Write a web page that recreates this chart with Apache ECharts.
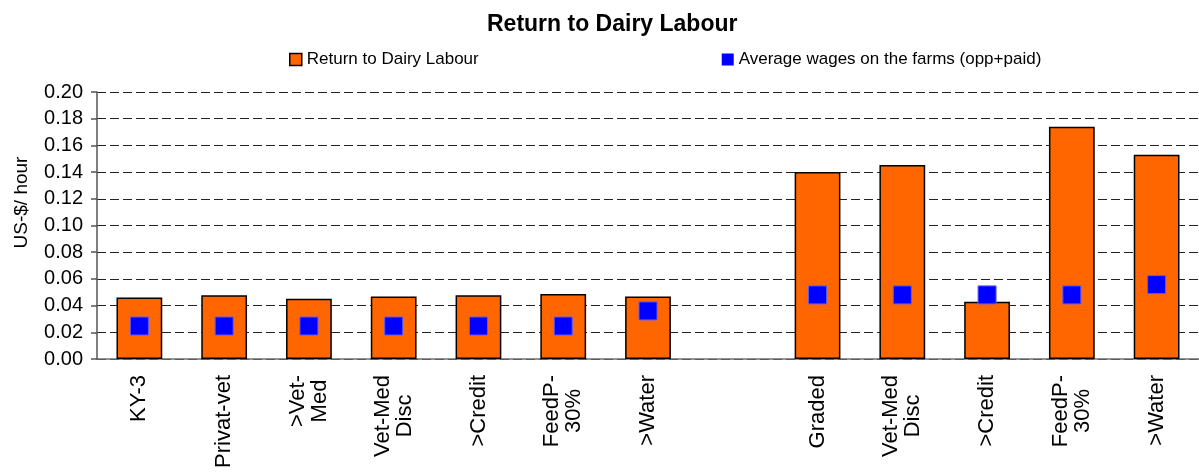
<!DOCTYPE html>
<html>
<head>
<meta charset="utf-8">
<script src="https://cdn.jsdelivr.net/npm/echarts@6/dist/echarts.min.js"></script>
<style>
  html, body { margin: 0; padding: 0; background: #ffffff; }
  #chart { width: 1199px; height: 472px; }
</style>
</head>
<body>
<div id="chart"></div>
<script>
// Scenario labels (blank slot separates the two farm groups)
const categories = [
  'KY-3', 'Privat-vet', '>Vet-\nMed', 'Vet-Med\nDisc', '>Credit', 'FeedP-\n30%', '>Water',
  '',
  'Graded', 'Vet-Med\nDisc', '>Credit', 'FeedP-\n30%', '>Water'
];

// Return to dairy labour, US-$ per hour
const returnLabour = [0.046, 0.0477, 0.0452, 0.0469, 0.0477, 0.0487, 0.0469, null, 0.140, 0.1453, 0.0429, 0.174, 0.153];

// Average wages on the farms (opportunity + paid), US-$ per hour
const avgWages = [0.0247, 0.0247, 0.0247, 0.0247, 0.0247, 0.0247, 0.036, null, 0.048, 0.048, 0.048, 0.048, 0.0557];

const FONT = '"Liberation Sans", Arial, sans-serif';

const chart = echarts.init(document.getElementById('chart'), null, { renderer: 'canvas' });

chart.setOption({
  animation: false,
  backgroundColor: '#ffffff',
  title: {
    text: 'Return to Dairy Labour',
    left: 482,
    top: 8,
    textStyle: { fontFamily: FONT, fontSize: 23, fontWeight: 'bold', color: '#000' }
  },
  legend: {
    left: 284,
    top: 46,
    itemGap: 243,
    itemWidth: 12,
    itemHeight: 12,
    itemStyle: { borderWidth: 0 },
    textStyle: { fontFamily: FONT, fontSize: 17, color: '#000' },
    data: [
      { name: 'Return to Dairy Labour', icon: 'rect', itemStyle: { borderColor: '#000', borderWidth: 1.5 } },
      { name: 'Average wages on the farms (opp+paid)', icon: 'rect', itemStyle: { borderWidth: 0 } }
    ]
  },
  grid: { left: 97, right: 0, top: 92, bottom: 113 },
  xAxis: {
    type: 'category',
    data: categories,
    boundaryGap: true,
    axisLine: { lineStyle: { color: '#707070', width: 1.5 } },
    axisTick: { alignWithLabel: false, length: 8, interval: 0, lineStyle: { color: '#707070', width: 1.5 } },
    axisLabel: {
      interval: 0,
      rotate: 90,
      margin: 16,
      fontFamily: FONT,
      fontSize: 22,
      color: '#000',
      formatter: function (v) {
        return v.split('\n').map(function (s) { return '{c|' + s + '}'; }).join('\n');
      },
      rich: {
        c: { align: 'center', fontFamily: FONT, fontSize: 22, lineHeight: 22, color: '#000' }
      }
    },
    splitLine: { show: false }
  },
  yAxis: {
    type: 'value',
    min: 0,
    max: 0.2,
    interval: 0.02,
    name: 'US-$/ hour',
    nameLocation: 'middle',
    nameGap: 66,
    nameTextStyle: { fontFamily: FONT, fontSize: 19, color: '#000', padding: [0, 0, 0, 46] },
    axisLine: { show: true, lineStyle: { color: '#555', width: 1.5 } },
    axisTick: { show: true, length: 6, lineStyle: { color: '#555', width: 1.5 } },
    axisLabel: {
      margin: 14,
      fontFamily: FONT,
      fontSize: 20,
      color: '#000',
      formatter: function (v) { return v.toFixed(2); }
    },
    splitLine: { show: true, lineStyle: { color: '#222', width: 1, type: [9, 4] } }
  },
  series: [
    {
      name: 'Return to Dairy Labour',
      type: 'bar',
      data: returnLabour,
      barWidth: '54%',
      itemStyle: { color: '#FF6600', borderColor: '#000', borderWidth: 1.5 },
      z: 2
    },
    {
      name: 'Average wages on the farms (opp+paid)',
      type: 'scatter',
      data: avgWages,
      symbol: 'rect',
      symbolSize: 18,
      itemStyle: { color: '#0000FF', borderColor: '#5a5aff', borderWidth: 1, opacity: 1 },
      z: 3
    }
  ]
});
</script>
</body>
</html>
